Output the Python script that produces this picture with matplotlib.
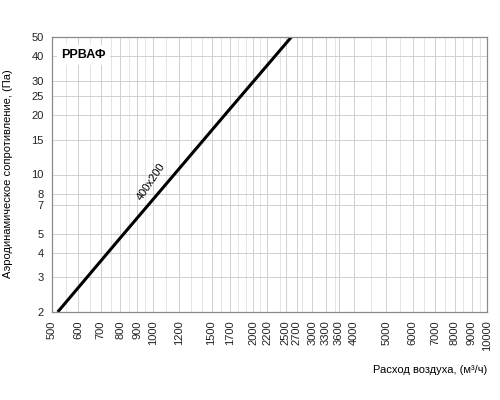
import matplotlib
matplotlib.use("Agg")
import matplotlib.pyplot as plt
from matplotlib.ticker import FixedLocator, NullFormatter, NullLocator

plt.rcParams['font.family'] = ['Liberation Sans', 'DejaVu Sans']

# data
flow = [520, 820, 1160, 1640, 2600]          # м³/ч
pressure = [2, 5, 10, 20, 50]                # Па
series_label = "400x200"
title = "РРВАФ"

x_ticks = [500, 600, 700, 800, 900, 1000, 1200, 1500, 1700, 2000, 2200, 2500,
           2700, 3000, 3300, 3600, 4000, 5000, 6000, 7000, 8000, 9000, 10000]
x_minor = [550, 650, 750, 850, 950, 1100, 1300, 1400, 1600, 1800, 1900, 2100,
           2400, 2800, 3500, 4500, 5500, 6500, 7500, 8500, 9500]
y_ticks = [2, 3, 4, 5, 7, 8, 10, 15, 20, 25, 30, 40, 50]

fig = plt.figure(figsize=(5, 4), dpi=100)
ax = fig.add_axes([0.104, 0.22, 0.87, 0.6875])
ax.set_xscale('log')
ax.set_yscale('log')
ax.set_xlim(500, 10000)
ax.set_ylim(2, 50)

ax.xaxis.set_major_locator(FixedLocator(x_ticks))
ax.xaxis.set_minor_locator(FixedLocator(x_minor))
ax.xaxis.set_minor_formatter(NullFormatter())
ax.set_xticklabels([str(v) for v in x_ticks], rotation=90, fontsize=8)
ax.yaxis.set_major_locator(FixedLocator(y_ticks))
ax.yaxis.set_minor_locator(NullLocator())
ax.set_yticklabels([str(v) for v in y_ticks], fontsize=8)
ax.tick_params(which='both', length=0, pad=6, colors='#222222')

ax.grid(True, which='major', color='#d0d0d0', lw=0.7)
ax.grid(True, which='minor', axis='x', color='#e0e0e0', lw=0.6)
for s in ax.spines.values():
    s.set_color('#8a8a8a')
    s.set_linewidth(0.9)

ax.plot(flow, pressure, color='black', lw=2.2, solid_capstyle='butt')

ax.text(990, 9.2, series_label, rotation=56, fontsize=8,
        ha='center', va='center')
ax.text(0.022, 0.935, title, transform=ax.transAxes, fontsize=9,
        fontweight='bold', ha='left', va='center',
        bbox=dict(facecolor='white', edgecolor='none', pad=3))

fig.text(0.974, 0.075, "Расход воздуха, (м³/ч)", ha='right', va='center',
         fontsize=8)
fig.text(0.016, 0.565, "Аэродинамическое сопротивление, (Па)", rotation=90,
         ha='center', va='center', fontsize=8)

fig.savefig("out.png", dpi=100)
